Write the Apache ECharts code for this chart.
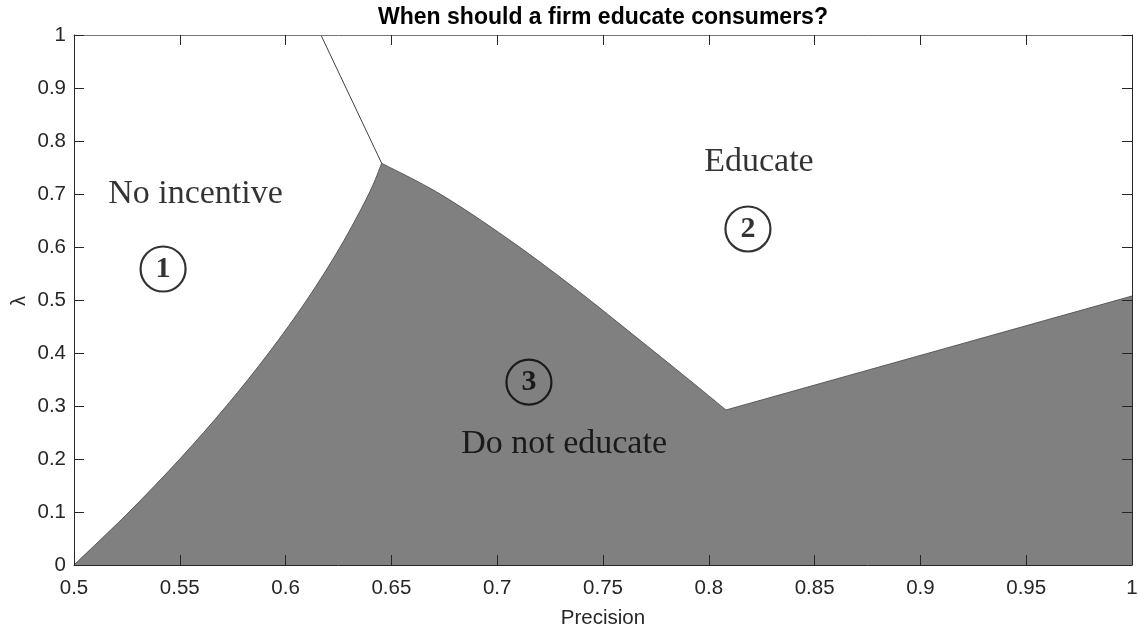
<!DOCTYPE html>
<html><head><meta charset="utf-8">
<script src="https://cdn.jsdelivr.net/npm/echarts@6/dist/echarts.min.js"></script>
<style>html,body{margin:0;padding:0;background:#fff}#c{width:1138px;height:628px}</style>
</head><body><div id="c"></div>
<script>
const titleText = 'When should a firm educate consumers?';
const xName = 'Precision';
const yName = 'λ';
// lower boundary of the shaded "Do not educate" region (three pieces)
const lowerLeftX = [0.5, 0.526, 0.550, 0.572, 0.592, 0.610, 0.6258, 0.6393, 0.6454];
const lowerLeftY = [0, 0.1, 0.2, 0.3, 0.4, 0.5, 0.6, 0.7, 0.758];
const middleX = [0.6454, 0.6730, 0.7045, 0.7360, 0.7675, 0.7927, 0.8081];
const middleY = [0.758, 0.700, 0.617, 0.524, 0.424, 0.343, 0.2925];
const rightX = [0.8081, 1.0];
const rightY = [0.2925, 0.5075];
// border between "No incentive" and "Educate"
const upperX = [0.6167, 0.6454];
const upperY = [1.0, 0.758];
// annotations
const regionNames = ['No incentive', 'Educate', 'Do not educate'];
const regionX = [0.5574, 0.8237, 0.7316];
const regionY = [0.699, 0.761, 0.229];
const circleNums = ['1', '2', '3'];
const circleX = [0.5421, 0.8185, 0.715];
const circleY = [0.5585, 0.634, 0.345];

const pairs = (xs, ys) => xs.map((x, i) => [x, ys[i]]);

const axisColor = '#262626';
const sansFont = 'Liberation Sans, Arial, Helvetica, sans-serif';
const serifFont = 'Liberation Serif, Times New Roman, serif';

// Catmull-Rom -> cubic bezier through pixel points (first point assumed current)
function smoothPath(pts) {
  let d = '';
  for (let i = 0; i < pts.length - 1; i++) {
    const p0 = pts[Math.max(0, i - 1)], p1 = pts[i], p2 = pts[i + 1], p3 = pts[Math.min(pts.length - 1, i + 2)];
    const c1 = [p1[0] + (p2[0] - p0[0]) / 6, p1[1] + (p2[1] - p0[1]) / 6];
    const c2 = [p2[0] - (p3[0] - p1[0]) / 6, p2[1] - (p3[1] - p1[1]) / 6];
    d += ' C' + c1[0] + ' ' + c1[1] + ' ' + c2[0] + ' ' + c2[1] + ' ' + p2[0] + ' ' + p2[1];
  }
  return d;
}

function renderRegion(params, api) {
  const a = pairs(lowerLeftX, lowerLeftY).map(p => api.coord(p));
  const b = pairs(middleX, middleY).map(p => api.coord(p));
  const c = pairs(rightX, rightY).map(p => api.coord(p));
  const edge = 'M' + a[0][0] + ' ' + a[0][1] + smoothPath(a) + smoothPath(b) +
    ' L' + c[c.length - 1][0] + ' ' + c[c.length - 1][1];
  const br = api.coord([rightX[rightX.length - 1], 0]);
  const fill = edge + ' L' + br[0] + ' ' + br[1] + ' Z';
  return {
    type: 'group',
    children: [
      {type: 'path', shape: {pathData: fill}, style: {fill: '#808080', stroke: null}},
      {type: 'path', shape: {pathData: edge}, style: {fill: null, stroke: '#505050', lineWidth: 0.9}}
    ]
  };
}

const chart = echarts.init(document.getElementById('c'), null, {renderer: 'canvas'});
const commonX = {
  type: 'value', min: 0.5, max: 1, interval: 0.05, z: 10,
  axisLine: {show: true, onZero: false, lineStyle: {color: axisColor, width: 1}},
  axisTick: {show: true, inside: true, length: 10, lineStyle: {color: axisColor}},
  splitLine: {show: false}
};
const commonY = {
  type: 'value', min: 0, max: 1, interval: 0.1, z: 10,
  axisLine: {show: true, onZero: false, lineStyle: {color: axisColor, width: 1}},
  axisTick: {show: true, inside: true, length: 10, lineStyle: {color: axisColor}},
  splitLine: {show: false}
};
chart.setOption({
  animation: false,
  backgroundColor: '#fff',
  grid: {left: 74, right: 6, top: 35, bottom: 63, containLabel: false, outerBoundsMode: 'none'},
  xAxis: [
    Object.assign({}, commonX, {
      position: 'bottom',
      axisLabel: {show: true, fontSize: 20.5, color: axisColor, fontFamily: sansFont, margin: 13},
      name: xName, nameLocation: 'middle', nameGap: 43,
      nameTextStyle: {fontSize: 20.5, color: axisColor, fontFamily: sansFont}
    }),
    Object.assign({}, commonX, {position: 'top', axisLabel: {show: false},
      axisLine: {show: true, onZero: false, lineStyle: {color: '#777', width: 1}}})
  ],
  yAxis: [
    Object.assign({}, commonY, {
      position: 'left',
      axisLabel: {show: true, fontSize: 20.5, color: axisColor, fontFamily: sansFont, margin: 8}
    }),
    Object.assign({}, commonY, {position: 'right', axisLabel: {show: false}})
  ],
  graphic: [
    {type: 'text', x: 603, y: 18, silent: true,
     style: {text: titleText, font: 'bold 23px ' + sansFont, fill: '#000',
             align: 'center', verticalAlign: 'middle', textAlign: 'center', textVerticalAlign: 'middle'}},
    {type: 'text', x: 19, y: 301, rotation: Math.PI / 2, silent: true,
     style: {text: yName, font: '20px ' + sansFont, fill: axisColor,
             align: 'center', verticalAlign: 'middle', textAlign: 'center', textVerticalAlign: 'middle'}}
  ],
  series: [
    {
      type: 'custom', coordinateSystem: 'cartesian2d', silent: true, z: 2,
      data: [[0.75, 0.25]], renderItem: renderRegion, clip: true
    },
    {
      type: 'line', data: pairs(upperX, upperY), symbol: 'none', silent: true, z: 3,
      lineStyle: {color: '#404040', width: 1}
    },
    {
      type: 'scatter', silent: true, z: 5, symbol: 'circle', symbolSize: 45,
      data: circleNums.map((n, i) => ({name: n, value: [circleX[i], circleY[i]]})),
      itemStyle: {color: 'rgba(0,0,0,0)', borderColor: '#000', borderWidth: 2.2},
      label: {show: true, position: 'inside', formatter: '{b}', fontSize: 30, fontWeight: 'bold',
              fontFamily: serifFont, color: '#000'},
      emphasis: {disabled: true}
    },
    {
      type: 'scatter', silent: true, z: 5, symbolSize: 0,
      data: regionNames.map((n, i) => ({name: n, value: [regionX[i], regionY[i]]})),
      itemStyle: {color: 'rgba(0,0,0,0)'},
      label: {show: true, position: 'inside', formatter: '{b}', fontSize: 34,
              fontFamily: serifFont, color: '#000'},
      emphasis: {disabled: true}
    }
  ]
});
</script></body></html>
